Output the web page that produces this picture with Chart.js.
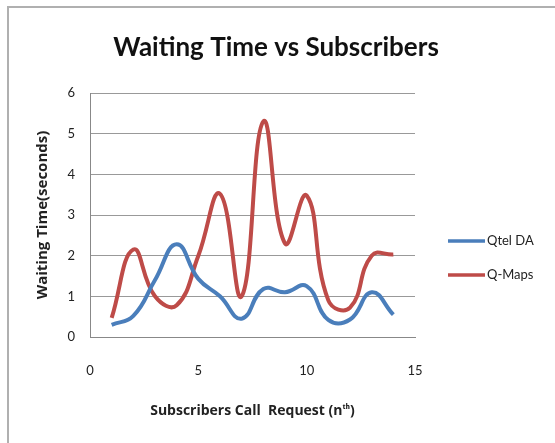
<!DOCTYPE html>
<html>
<head>
<meta charset="utf-8">
<script src="https://cdn.jsdelivr.net/npm/chart.js@4/dist/chart.umd.min.js"></script>
<style>
  html, body { margin: 0; padding: 0; background: #fff; }
  #wrap { position: relative; width: 555px; height: 443px; }
  #frame { position: absolute; left: 7px; top: 6px; right: -4px; bottom: -4px; border-top: 2px solid #b0b0b0; border-left: 2px solid #b0b0b0; }
  canvas { position: absolute; left: 0; top: 0; }
</style>
</head>
<body>
<div id="wrap">
  <div id="frame"></div>
  <canvas id="c" width="555" height="443"></canvas>
</div>
<script>
const requests = [1, 2, 3, 4, 5, 6, 7, 8, 9, 10, 11, 12, 13, 14]
const qtelDA = [0.3, 0.52, 1.4, 2.28, 1.43, 1.0, 0.45, 1.18, 1.1, 1.25, 0.42, 0.43, 1.1, 0.55]
const qMaps = [0.47, 2.15, 1.0, 0.78, 2.0, 3.52, 1.0, 5.3, 2.3, 3.48, 0.9, 0.72, 2.0, 2.03]
const yTicks = [0, 1, 2, 3, 4, 5, 6]
const xTicks = [0, 5, 10, 15]

const FONT = 'Lato, "Open Sans", sans-serif'
const AXIS_FONT = '"Open Sans", Lato, sans-serif'
const TITLE = 'Waiting Time vs Subscribers'
const seriesDefs = [
  { label: 'Qtel DA', values: qtelDA, color: '#4a7ebb' },
  { label: 'Q-Maps', values: qMaps, color: '#be4b48' }
]

// title centred on the whole frame + legend on the right, Excel style
const decor = {
  id: 'decor',
  afterDraw(chart) {
    const ctx = chart.ctx
    ctx.save()
    ctx.fillStyle = '#111'
    ctx.font = 'bold 26px ' + FONT
    ctx.textAlign = 'center'
    ctx.textBaseline = 'alphabetic'
    ctx.fillText(TITLE, 276, 56)

    ctx.font = '13px ' + FONT
    ctx.textAlign = 'left'
    ctx.textBaseline = 'middle'
    ctx.fillStyle = '#222'
    chart.data.datasets.forEach((ds, i) => {
      const y = 241 + i * 34
      ctx.strokeStyle = ds.borderColor
      ctx.lineWidth = 3.5
      ctx.beginPath(); ctx.moveTo(448, y); ctx.lineTo(485, y); ctx.stroke()
      ctx.fillText(ds.label, 487, y)
    })
    ctx.restore()
  }
}

new Chart(document.getElementById('c'), {
  type: 'scatter',
  data: {
    datasets: seriesDefs.map(s => ({
      label: s.label,
      data: requests.map((x, i) => ({ x, y: s.values[i] })),
      showLine: true,
      borderColor: s.color,
      backgroundColor: s.color,
      borderWidth: 4,
      pointRadius: 0,
      tension: 0.45
    }))
  },
  options: {
    responsive: false,
    animation: false,
    layout: { padding: { left: 0, right: 140, top: 93, bottom: 0 } },
    plugins: {
      legend: { display: false },
      tooltip: { enabled: false },
      title: { display: false }
    },
    scales: {
      x: {
        type: 'linear',
        min: 0, max: 15,
        afterBuildTicks: s => { s.ticks = xTicks.map(v => ({ value: v })) },
        grid: { display: false, drawTicks: false },
        border: { display: true, color: '#888', width: 1 },
        ticks: { color: '#222', padding: 26, font: { family: FONT, size: 13 } },
        title: {
          display: true,
          text: 'Subscribers Call  Request (nᵗʰ)',
          color: '#222',
          font: { family: AXIS_FONT, size: 14, weight: 'bold' },
          padding: { top: 0, bottom: 24 }
        },
        afterFit: s => { s.height = 443 - 337 }
      },
      y: {
        min: 0, max: 6,
        afterBuildTicks: s => { s.ticks = yTicks.map(v => ({ value: v })) },
        grid: { color: '#999', lineWidth: 1, drawTicks: false },
        border: { display: true, color: '#888', width: 1 },
        ticks: { color: '#222', padding: 15, font: { family: FONT, size: 13 } },
        title: {
          display: true,
          text: 'Waiting Time(seconds)',
          color: '#222',
          font: { family: AXIS_FONT, size: 15, weight: 'bold' },
          padding: { top: 34, bottom: 0 }
        },
        afterFit: s => { s.width = 90 }
      }
    }
  },
  plugins: [decor]
})
</script>
</body>
</html>
